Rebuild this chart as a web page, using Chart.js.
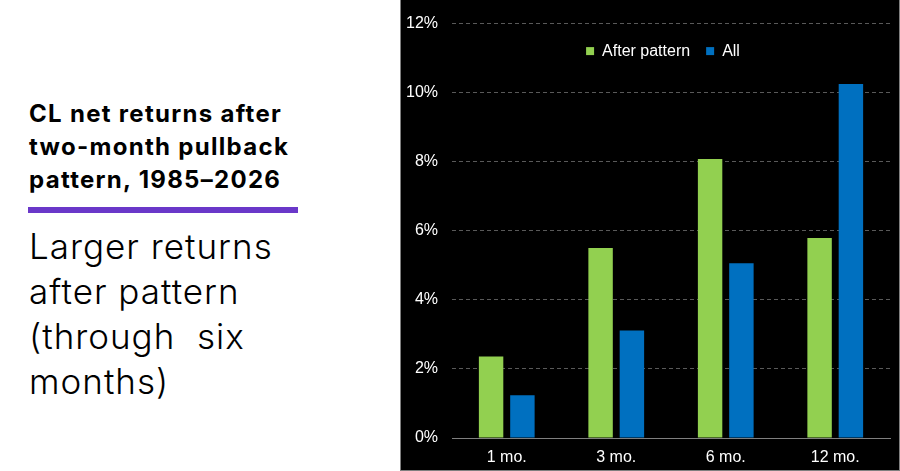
<!DOCTYPE html>
<html>
<head>
<meta charset="utf-8">
<script src="https://cdn.jsdelivr.net/npm/chart.js@4.4.1/dist/chart.umd.min.js"></script>
<style>
  html, body { margin: 0; padding: 0; background: #fff; width: 900px; height: 471px; overflow: hidden; }
  .title { position: absolute; left: 29px; top: 97px; font: 700 24px/33px Inter, sans-serif; letter-spacing: 1.3px; color: #000; }
  .rule { position: absolute; left: 28px; top: 207px; width: 270px; height: 6px; background: #6a38c9; }
  .sub { position: absolute; left: 29px; top: 224px; font: 300 35px/45px Inter, sans-serif; letter-spacing: 1px; color: #000; white-space: pre; }
  .panel { position: absolute; left: 400px; top: 0; width: 498px; height: 470px; background: #000;
           border-left: 1px solid #7f7f7f; border-right: 1px solid #7f7f7f; border-bottom: 1px solid #7f7f7f; }
  canvas { display: block; }
</style>
</head>
<body>
<div class="title">CL net returns after<br>two-month pullback<br>pattern, 1985–2026</div>
<div class="rule"></div>
<div class="sub">Larger returns
after pattern
(through  six
months)</div>
<div class="panel"><canvas id="chart" width="498" height="470"></canvas></div>

<script>
// values, in percent
const categories = ['1 mo.', '3 mo.', '6 mo.', '12 mo.'];
const afterPattern = [2.36, 5.50, 8.08, 5.79];
const allReturns = [1.24, 3.11, 5.06, 10.25];
const seriesNames = ['After pattern', 'All'];
const yMin = 0, yMax = 12, yStep = 2;

const FONT = { family: '"Liberation Sans", Arial, sans-serif', size: 16 };

// legend floats inside the plot: take no layout height, then nudge it
const legendFloat = {
  id: 'legendFloat',
  beforeLayout(chart) {
    const lg = chart.legend;
    if (!lg || lg._floatPatched) return;
    const fit = lg.fit;
    lg.fit = function () { fit.call(this); this.height = 0; };
    lg._floatPatched = true;
  },
  afterLayout(chart) {
    const lg = chart.legend;
    if (!lg) return;
    lg.left -= 8; lg.right -= 8;
    lg.top += 3.5;
    lg.height = 60;          // give the clip box its real size back
    lg.bottom = lg.top + 60;
  }
};

new Chart(document.getElementById('chart'), {
  type: 'bar',
  data: {
    labels: categories,
    datasets: [
      { label: seriesNames[0], data: afterPattern, backgroundColor: '#92d050', borderWidth: 0 },
      { label: seriesNames[1], data: allReturns, backgroundColor: '#0070c0', borderWidth: 0 },
    ],
  },
  options: {
    responsive: false,
    animation: false,
    categoryPercentage: 0.572,
    barPercentage: 0.78,
    layout: { padding: { top: 21, right: 9, bottom: 0, left: 0 } },
    plugins: {
      tooltip: { enabled: false },
      legend: {
        position: 'top',
        fullSize: false,
        align: 'center',
        labels: { color: '#fff', font: FONT, boxWidth: 8, boxHeight: 8, padding: 16 },
      },
    },
    scales: {
      x: {
        grid: { display: false, drawTicks: false },
        border: { display: true, color: '#7f7f7f', width: 1 },
        ticks: { color: '#fff', font: FONT, padding: 10 },
        afterFit: s => { s.height = 32; },
      },
      y: {
        min: yMin, max: yMax,
        grid: { color: '#595959', lineWidth: 1, drawTicks: false },
        border: { display: false, dash: [4, 3] },
        ticks: { stepSize: yStep, color: '#fff', font: FONT, padding: 14, callback: v => v + '%' },
        afterFit: s => { s.width = 51; },
      },
    },
  },
  plugins: [legendFloat],
});
</script>
</body>
</html>
